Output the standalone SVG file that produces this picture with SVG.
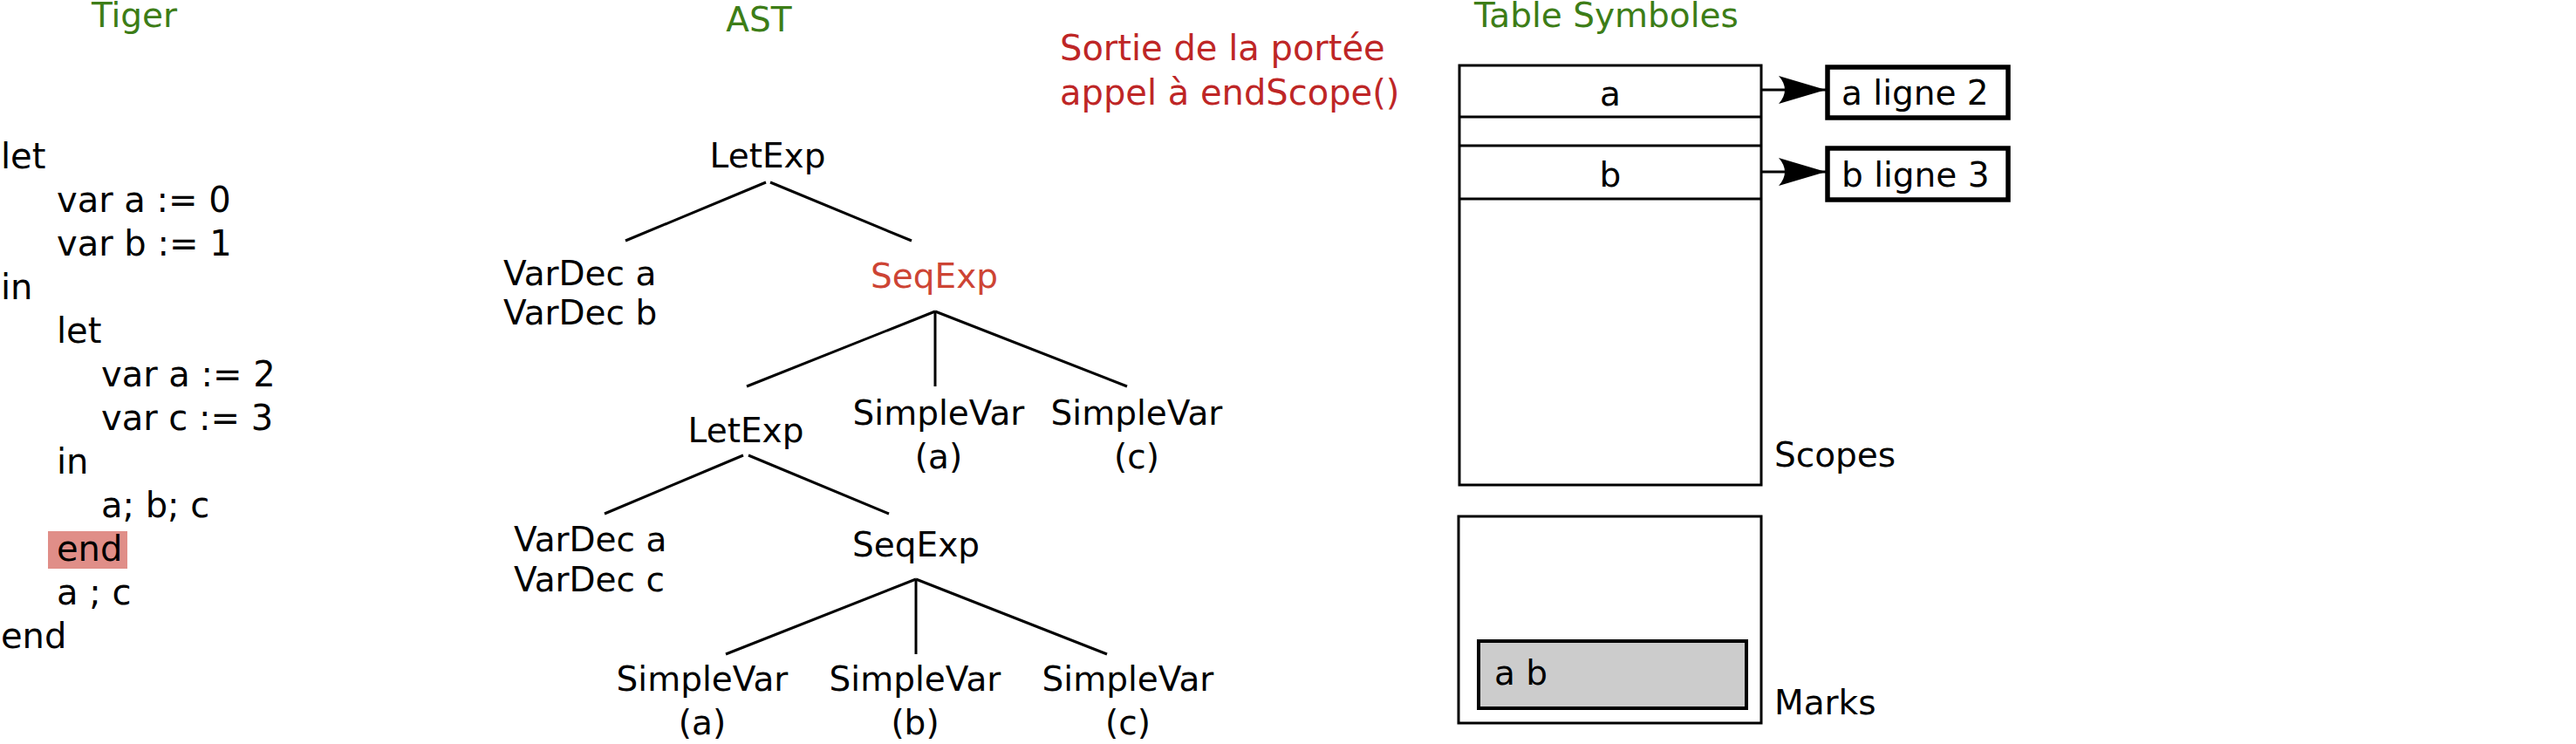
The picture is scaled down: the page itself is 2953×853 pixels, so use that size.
<svg xmlns="http://www.w3.org/2000/svg" width="2953" height="853" viewBox="0 0 2953 853">
  <style>
    text { font-family: "DejaVu Sans", "Liberation Sans", sans-serif; fill: #000; }
    .code { font-size: 40px; }
    .ast { font-size: 39px; text-anchor: middle; }
    .astl { font-size: 39px; }
    .title { font-size: 39px; fill: #3d7d17; }
    .note { font-size: 40px; fill: #be2626; }
    .hot { fill: #cd4434; }
    .edge { stroke: #000; stroke-width: 3; fill: none; }
    .box { stroke: #000; stroke-width: 3; fill: #fff; }
    .thick { stroke: #000; stroke-width: 5.5; fill: #fff; }
    .lbl { font-size: 39px; }
  </style>
  <defs>
    <marker id="arr" markerUnits="userSpaceOnUse" markerWidth="60" markerHeight="40" refX="54" refY="17" orient="auto">
      <path d="M54,17 L0,1 Q14,17 0,33 Z" fill="#000"/>
    </marker>
  </defs>
  <rect width="2953" height="853" fill="#fff"/>

  <g id="titles">
    <text class="title" x="154" y="31" text-anchor="middle">Tiger</text>
    <text class="title" x="870" y="36" text-anchor="middle">AST</text>
    <text class="title" x="1690" y="31">Table Symboles</text>
  </g>

  <g id="tiger-code">
    <rect x="55" y="609" width="91" height="43" fill="#e08e88"/>
    <text class="code" x="1" y="193">let</text>
    <text class="code" x="65" y="243">var a := 0</text>
    <text class="code" x="65" y="293">var b := 1</text>
    <text class="code" x="1" y="343">in</text>
    <text class="code" x="65" y="393">let</text>
    <text class="code" x="116" y="443">var a := 2</text>
    <text class="code" x="116" y="493">var c := 3</text>
    <text class="code" x="65" y="543">in</text>
    <text class="code" x="116" y="593">a; b; c</text>
    <text class="code" x="65" y="643">end</text>
    <text class="code" x="65" y="693">a ; c</text>
    <text class="code" x="1" y="743">end</text>
  </g>

  <g id="note">
    <text class="note" x="1215" y="69">Sortie de la portée</text>
    <text class="note" x="1215" y="120">appel à endScope()</text>
  </g>

  <g id="connectors">
    <line class="edge" x1="878" y1="209" x2="717" y2="276"/>
    <line class="edge" x1="883" y1="209" x2="1045" y2="276"/>
    <line class="edge" x1="1072" y1="357" x2="856" y2="443"/>
    <line class="edge" x1="1072" y1="357" x2="1072" y2="443"/>
    <line class="edge" x1="1072" y1="357" x2="1292" y2="443"/>
    <line class="edge" x1="852" y1="522" x2="693" y2="589"/>
    <line class="edge" x1="858" y1="522" x2="1019" y2="589"/>
    <line class="edge" x1="1050" y1="664" x2="832" y2="750"/>
    <line class="edge" x1="1050" y1="664" x2="1050" y2="750"/>
    <line class="edge" x1="1050" y1="664" x2="1269" y2="750"/>
    <line class="edge" x1="2019" y1="103" x2="2093" y2="103" marker-end="url(#arr)"/>
    <line class="edge" x1="2019" y1="197" x2="2093" y2="197" marker-end="url(#arr)"/>
  </g>

  <g id="ast-letexp-root"><text class="ast" x="880" y="192">LetExp</text></g>
  <g id="ast-vardec-ab"><text class="astl" x="577" y="327">VarDec a</text><text class="astl" x="577" y="372">VarDec b</text></g>
  <g id="ast-seqexp-root"><text class="ast hot" x="1071" y="330">SeqExp</text></g>
  <g id="ast-letexp-inner"><text class="ast" x="855" y="507">LetExp</text></g>
  <g id="ast-simplevar-a1"><text class="ast" x="1076" y="487">SimpleVar</text><text class="ast" x="1076" y="537">(a)</text></g>
  <g id="ast-simplevar-c1"><text class="ast" x="1303" y="487">SimpleVar</text><text class="ast" x="1303" y="537">(c)</text></g>
  <g id="ast-vardec-ac"><text class="astl" x="589" y="632">VarDec a</text><text class="astl" x="589" y="678">VarDec c</text></g>
  <g id="ast-seqexp-inner"><text class="ast" x="1050" y="638">SeqExp</text></g>
  <g id="ast-simplevar-a2"><text class="ast" x="805" y="792">SimpleVar</text><text class="ast" x="805" y="842">(a)</text></g>
  <g id="ast-simplevar-b2"><text class="ast" x="1049" y="792">SimpleVar</text><text class="ast" x="1049" y="842">(b)</text></g>
  <g id="ast-simplevar-c2"><text class="ast" x="1293" y="792">SimpleVar</text><text class="ast" x="1293" y="842">(c)</text></g>

  <g id="scopes-table">
    <rect class="box" x="1673" y="75" width="346" height="481"/>
    <line class="edge" x1="1673" y1="134" x2="2019" y2="134"/>
    <line class="edge" x1="1673" y1="167" x2="2019" y2="167"/>
    <line class="edge" x1="1673" y1="228" x2="2019" y2="228"/>
    <text class="lbl" x="1846" y="121" text-anchor="middle">a</text>
    <text class="lbl" x="1846" y="214" text-anchor="middle">b</text>
    <text class="lbl" x="2034" y="535">Scopes</text>
  </g>

  <g id="entry-a">
    <rect class="thick" x="2095" y="77" width="207" height="58"/>
    <text class="lbl" x="2111" y="120">a ligne 2</text>
  </g>
  <g id="entry-b">
    <rect class="thick" x="2095" y="170" width="207" height="59"/>
    <text class="lbl" x="2111" y="214">b ligne 3</text>
  </g>

  <g id="marks">
    <rect class="box" x="1672" y="592" width="347" height="237"/>
    <rect x="1695" y="735" width="307" height="77" fill="#cccccc" stroke="#000" stroke-width="4"/>
    <text class="lbl" x="1713" y="785">a b</text>
    <text class="lbl" x="2034" y="819">Marks</text>
  </g>
</svg>
